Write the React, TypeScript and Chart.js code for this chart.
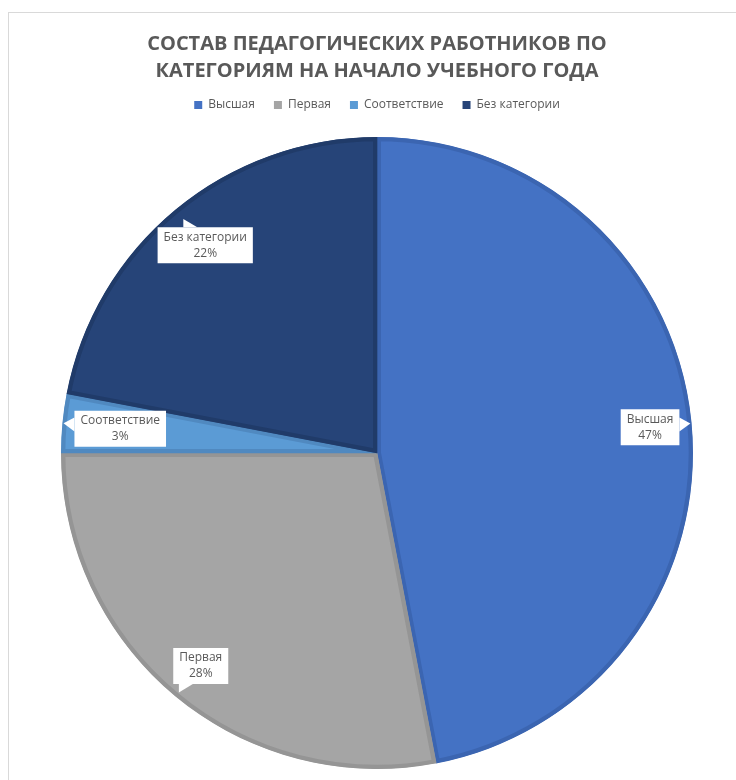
import React, { useEffect, useRef } from "react";
import { Chart, registerables } from "chart.js";

Chart.register(...registerables);

const categories = ["Высшая", "Первая", "Соответствие", "Без категории"];
const shares = [47, 28, 3, 22];
const fillColors = ["#4472C4", "#A5A5A5", "#5B9BD5", "#264478"];
const edgeColors = ["#3B65B1", "#959595", "#5089C0", "#203B69"];
const titleLines = [
  "СОСТАВ ПЕДАГОГИЧЕСКИХ РАБОТНИКОВ ПО",
  "КАТЕГОРИЯМ НА НАЧАЛО УЧЕБНОГО ГОДА",
];

const FONT = "'Open Sans', 'Noto Sans', sans-serif";
const TEXT = "#595959";

const calloutPlugin = {
  id: "callouts",
  afterDatasetsDraw(chart: any) {
    const ctx = chart.ctx as CanvasRenderingContext2D;
    const meta = chart.getDatasetMeta(0);
    const data = chart.data.datasets[0].data as number[];
    const total = data.reduce((a, b) => a + b, 0);
    ctx.save();
    ctx.font = `12px ${FONT}`;
    meta.data.forEach((arc: any, i: number) => {
      const { x, y, startAngle, endAngle, outerRadius } = arc.getProps(
        ["x", "y", "startAngle", "endAngle", "outerRadius"],
        true
      );
      const mid = (startAngle + endAngle) / 2;
      const dx = Math.cos(mid);
      const dy = Math.sin(mid);
      const lines = [
        String(chart.data.labels[i]),
        Math.round((data[i] / total) * 100) + "%",
      ];
      const w = Math.max(...lines.map((l) => ctx.measureText(l).width)) + 12;
      const h = 36;
      const hw = w / 2;
      const hh = h / 2;
      // keep the whole box inside the slice's outer edge
      const dist = Math.min(outerRadius * 0.875, outerRadius - 12 - Math.abs(dx) * hw - Math.abs(dy) * hh * 0.3);
      const cx = x + dx * dist;
      const cy = y + dy * dist;
      const tx = hw / Math.max(Math.abs(dx), 1e-9);
      const ty = hh / Math.max(Math.abs(dy), 1e-9);
      const t = Math.min(tx, ty);
      const px = cx + dx * t;
      const py = cy + dy * t;
      const clampX = (v: number) => Math.min(Math.max(v, cx - hw), cx + hw);
      const clampY = (v: number) => Math.min(Math.max(v, cy - hh), cy + hh);
      let b1: [number, number];
      let b2: [number, number];
      if (tx < ty) {
        b1 = [px, clampY(py - 7)];
        b2 = [px, clampY(py + 7)];
      } else {
        b1 = [clampX(px - 7), py];
        b2 = [clampX(px + 7), py];
      }
      const tip: [number, number] = [px + dx * 11, py + dy * 11];
      ctx.fillStyle = "#ffffff";
      ctx.beginPath();
      ctx.rect(cx - hw, cy - hh, w, h);
      ctx.fill();
      ctx.beginPath();
      ctx.moveTo(b1[0], b1[1]);
      ctx.lineTo(tip[0], tip[1]);
      ctx.lineTo(b2[0], b2[1]);
      ctx.closePath();
      ctx.fill();
      ctx.fillStyle = TEXT;
      ctx.textAlign = "center";
      ctx.textBaseline = "middle";
      ctx.fillText(lines[0], cx, cy - 8);
      ctx.fillText(lines[1], cx, cy + 8);
    });
    ctx.restore();
  },
};

export default function App() {
  const ref = useRef<HTMLCanvasElement | null>(null);
  useEffect(() => {
    if (!ref.current) return;
    const chart = new Chart(ref.current, {
      type: "pie",
      data: {
        labels: categories,
        datasets: [
          {
            data: shares,
            backgroundColor: fillColors,
            borderColor: edgeColors,
            borderWidth: 4,
            borderAlign: "inner",
            hoverOffset: 0,
            radius: 316,
          } as any,
        ],
      },
      options: {
        responsive: false,
        animation: false,
        events: [],
        layout: { padding: { left: 0, right: 4, top: 0, bottom: 8 } },
        plugins: {
          title: {
            display: true,
            text: titleLines,
            color: TEXT,
            font: { family: FONT, size: 20, weight: "bold", lineHeight: 27 / 20 },
            padding: { top: 18, bottom: -5 },
          },
          legend: {
            position: "top",
            labels: {
              boxWidth: 8,
              boxHeight: 8,
              padding: 19,
              color: TEXT,
              font: { family: FONT, size: 12 },
              generateLabels: (c: any) =>
                (c.data.labels as string[]).map((text, i) => ({
                  text,
                  fillStyle: fillColors[i],
                  strokeStyle: fillColors[i],
                  lineWidth: 0,
                  fontColor: TEXT,
                  hidden: false,
                  index: i,
                  datasetIndex: 0,
                })),
            },
          },
          tooltip: { enabled: false },
        },
      } as any,
      plugins: [calloutPlugin],
    });
    return () => chart.destroy();
  }, []);

  return (
    <div
      style={{
        position: "fixed",
        left: 8,
        top: 12,
        width: 800,
        height: 800,
        borderLeft: "1px solid #d9d9d9",
        borderTop: "1px solid #d9d9d9",
        background: "#ffffff",
      }}
    >
      <canvas
        ref={ref}
        width={740}
        height={780}
        style={{ position: "absolute", left: 0, top: 0, width: 740, height: 780 }}
      />
    </div>
  );
}
